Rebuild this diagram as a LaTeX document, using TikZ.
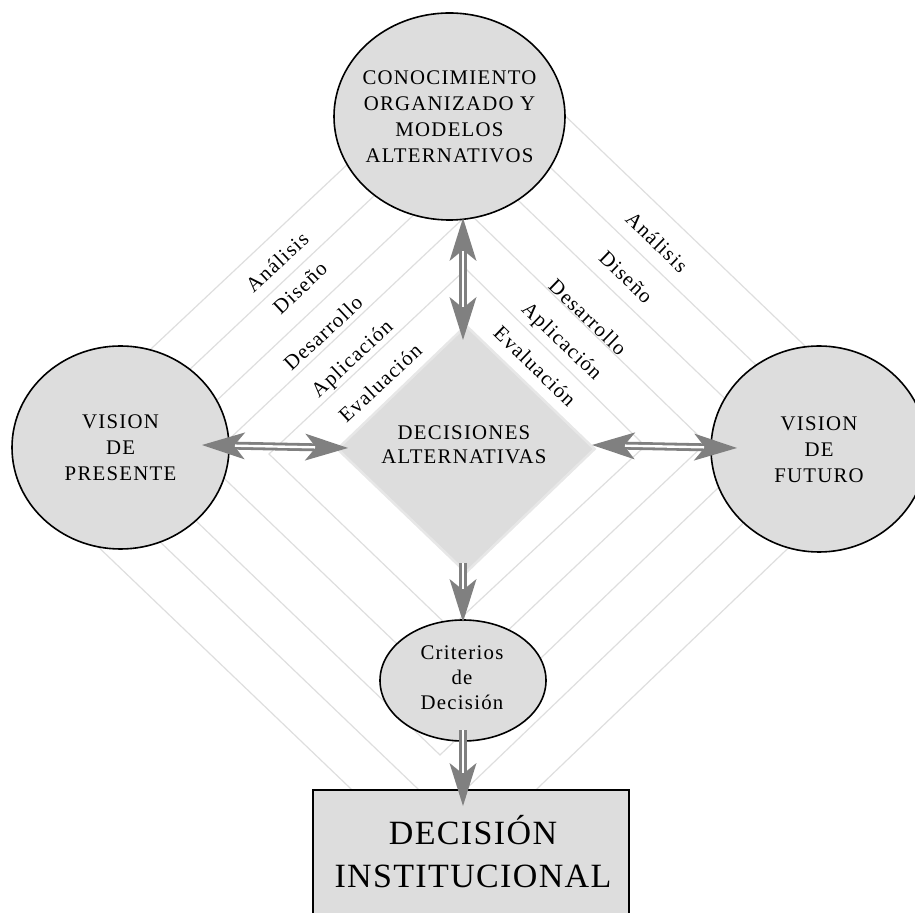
\documentclass[tikz,border=0pt]{standalone}
\usepackage{fontspec}
\setmainfont{Liberation Serif}
\newfontfamily\lsp[LetterSpace=6]{Liberation Serif}
\newfontfamily\lbig[LetterSpace=4]{Liberation Serif}
\usetikzlibrary{arrows.meta,shapes.geometric}
\definecolor{fillg}{HTML}{DDDDDD}
\definecolor{lineg}{HTML}{DEDEDE}
\definecolor{arrg}{HTML}{808080}
\definecolor{diabord}{HTML}{E7E7E7}
\begin{document}
\begin{tikzpicture}[x=0.5pt,y=-0.5pt,
  ell/.style={ellipse, draw=black, line width=0.8pt, fill=fillg, inner sep=0pt},
  lbl/.style={font=\lsp\fontsize{10.4pt}{13pt}\selectfont, align=center, inner sep=0pt},
  phase/.style={font=\lsp\fontsize{10.4pt}{12pt}\selectfont, inner sep=0pt},
  strip/.style={draw=lineg, line width=0.6pt, line join=miter},
  dbl/.style={draw=arrg, line width=4pt, {Stealth[length=21.5pt,width=13.5pt,inset=5.5pt,line width=0pt 0 0]}-{Stealth[length=21.5pt,width=13.5pt,inset=5.5pt,line width=0pt 0 0]}},
  sgl/.style={draw=arrg, line width=4pt, -{Stealth[length=21.5pt,width=13.5pt,inset=5.5pt,line width=0pt 0 0]}},
  gapline/.style={draw=white, line width=1.2pt}
]
\useasboundingbox (0,0) rectangle (915,913);
\clip (0,0) rectangle (915,913);

% concentric strips
\draw[strip] (483,37) -- (902,439) -- (444,878) -- (20,472) -- cycle;
\draw[strip] (478,98) -- (832,438) -- (442,812) -- (84,469) -- cycle;
\draw[strip] (474,158) -- (768,440) -- (440,755) -- (143,470) -- cycle;
\draw[strip] (469,213) -- (706,443) -- (445,690) -- (206,461) -- cycle;
\draw[strip] (466,269) -- (645,446) -- (450,628) -- (269,454) -- cycle;

% central diamond
\node[diamond, draw=diabord, line width=1.3pt, fill=fillg, inner sep=0pt,
      minimum width=129pt, minimum height=124pt] (dia) at (466,449) {};

% ellipses and box
\node[ell, minimum width=115.5pt, minimum height=103.5pt] (con) at (449.5,116.5) {};
\node[ell, minimum width=108.5pt, minimum height=101.5pt] (pre) at (120.5,447.5) {};
\node[ell, minimum width=108pt, minimum height=103pt] (fut) at (819,449) {};
\node[ell, minimum width=83pt, minimum height=60.5pt] (cri) at (463,680.5) {};
\node[draw=black, line width=1pt, fill=fillg, inner sep=0pt, anchor=north west,
      minimum width=158pt, minimum height=90pt] (ins) at (312,789) {};

% texts
\node[lbl] (tcon) at (449.5,116.75) {CONOCIMIENTO\\ORGANIZADO Y\\MODELOS\\ALTERNATIVOS};
\node[lbl] (tpre) at (120.5,447.75) {VISION\\DE\\PRESENTE};
\node[lbl] (tfut) at (819,449.5) {VISION\\DE\\FUTURO};
\node[lbl, font=\lsp\fontsize{10.4pt}{12pt}\selectfont] (tdia) at (464,444.3) {DECISIONES\\ALTERNATIVAS};
\node[lbl, font=\lsp\fontsize{10.4pt}{12.5pt}\selectfont] (tcri) at (462,678.2) {Criterios\\de\\Decisión};
\node[lbl, font=\lbig\fontsize{17pt}{21.5pt}\selectfont] (tins) at (473,851.5) {DECISIÓN\\INSTITUCIONAL};

% phase labels, left side
\node[phase, rotate=43] (la1) at (277,262) {Análisis};
\node[phase, rotate=43] (la2) at (300,288) {Diseño};
\node[phase, rotate=43] (la3) at (323,333) {Desarrollo};
\node[phase, rotate=43] (la4) at (353,360) {Aplicación};
\node[phase, rotate=43] (la5) at (380,383) {Evaluación};
% phase labels, right side
\node[phase, rotate=-44] (ra1) at (657,242) {Análisis};
\node[phase, rotate=-44] (ra2) at (626,277) {Diseño};
\node[phase, rotate=-44] (ra3) at (588,317) {Desarrollo};
\node[phase, rotate=-44] (ra4) at (561,342) {Aplicación};
\node[phase, rotate=-44] (ra5) at (535,366) {Evaluación};

% arrow end points
\coordinate (a1) at (463,218); \coordinate (a2) at (463,340);
\coordinate (b1) at (202,445); \coordinate (b2) at (348,448);
\coordinate (c1) at (592,445); \coordinate (c2) at (737,448);
\coordinate (d1) at (463,563); \coordinate (d2) at (463,622);
\coordinate (e1) at (463,730); \coordinate (e2) at (463,806);

\draw[dbl] (a1) -- (a2);
\draw[gapline, shorten <=16.5pt, shorten >=16.5pt] (a1) -- (a2);
\draw[dbl] (b1) -- (b2);
\draw[gapline, shorten <=16.5pt, shorten >=16.5pt] (b1) -- (b2);
\draw[dbl] (c1) -- (c2);
\draw[gapline, shorten <=16.5pt, shorten >=16.5pt] (c1) -- (c2);
\draw[sgl] (d1) -- (d2);
\draw[gapline, shorten >=16.5pt] (d1) -- (d2);
\draw[sgl] (e1) -- (e2);
\draw[gapline, shorten >=16.5pt] (e1) -- (e2);
\end{tikzpicture}
\end{document}
